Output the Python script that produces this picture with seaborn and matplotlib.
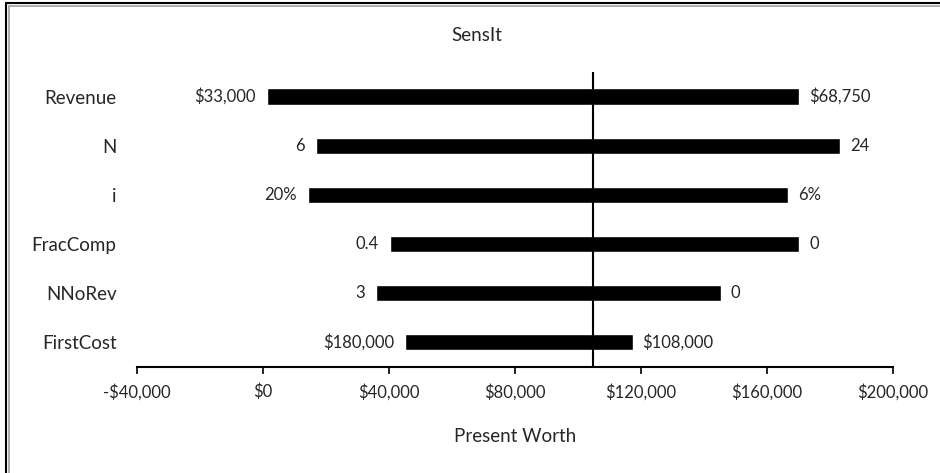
import numpy as np
import pandas as pd
import matplotlib.pyplot as plt
import seaborn as sns
from matplotlib.lines import Line2D
from matplotlib.ticker import FuncFormatter

# tornado data (present worth at low / high input value)
variables = ['Revenue', 'N', 'i', 'FracComp', 'NNoRev', 'FirstCost']
pw_low = [1400, 16800, 14300, 40300, 35900, 45300]
pw_high = [170400, 183400, 166900, 170400, 145400, 117400]
low_labels = ['$33,000', '6', '20%', '0.4', '3', '$180,000']
high_labels = ['$68,750', '24', '6%', '0', '0', '$108,000']
base_pw = 105000
x_ticks = [-40000, 0, 40000, 80000, 120000, 160000, 200000]

df = pd.DataFrame({'Variable': variables, 'Low': pw_low, 'High': pw_high})
df['Span'] = df['High'] - df['Low']

sns.set_theme(style='white')
plt.rcParams['font.family'] = ['Lato', 'DejaVu Sans']

fig = plt.figure(figsize=(9.4, 4.73), dpi=100)
ax = fig.add_axes([0.1454, 0.2247, 0.8043, 0.6231])

sns.barplot(data=df, x='Span', y='Variable', orient='h', left=df['Low'].values,
            color='black', width=0.33, errorbar=None, ax=ax, saturation=1)

# base case line
ax.axvline(base_pw, color='black', lw=1.5)

for i, row in df.iterrows():
    ax.annotate(low_labels[i], (row['Low'], i), xytext=(-8, 0), textcoords='offset points',
                ha='right', va='center', fontsize=12)
    ax.annotate(high_labels[i], (row['High'], i), xytext=(7, 0), textcoords='offset points',
                ha='left', va='center', fontsize=12)

ax.set_xlim(-40000, 200000)
ax.set_xticks(x_ticks)
ax.xaxis.set_major_formatter(FuncFormatter(lambda v, p: f'-${abs(v):,.0f}' if v < 0 else f'${v:,.0f}'))
ax.tick_params(axis='x', bottom=True, direction='out', length=5, width=1.2, color='black',
               labelsize=12, pad=7)
ax.tick_params(axis='y', left=False, labelsize=13.5, pad=8.5)

for s in ['top', 'right', 'left']:
    ax.spines[s].set_visible(False)
ax.spines['bottom'].set_color('black')
ax.spines['bottom'].set_linewidth(1.5)

ax.set_ylabel('')
ax.set_xlabel('Present Worth', fontsize=13.5)
ax.xaxis.set_label_coords(0.5, -0.2375)
ax.xaxis.label.set_va('center')

fig.text(0.507, 0.924, 'SensIt', ha='center', va='center', fontsize=13.5)

# frame like the spreadsheet chart border (top and left only)
W, H = 940, 473
fig.add_artist(Line2D([5.5 / W, 1], [1 - 3.5 / H, 1 - 3.5 / H], color='black', lw=1.5))
fig.add_artist(Line2D([5.5 / W, 5.5 / W], [0, 1 - 3.5 / H], color='black', lw=1.5))
fig.add_artist(Line2D([8.5 / W, 1], [1 - 6 / H, 1 - 6 / H], color='#a0a0a0', lw=1.2))
fig.add_artist(Line2D([8.5 / W, 8.5 / W], [0, 1 - 6 / H], color='#a0a0a0', lw=1.2))

fig.savefig('out.png', dpi=100)
